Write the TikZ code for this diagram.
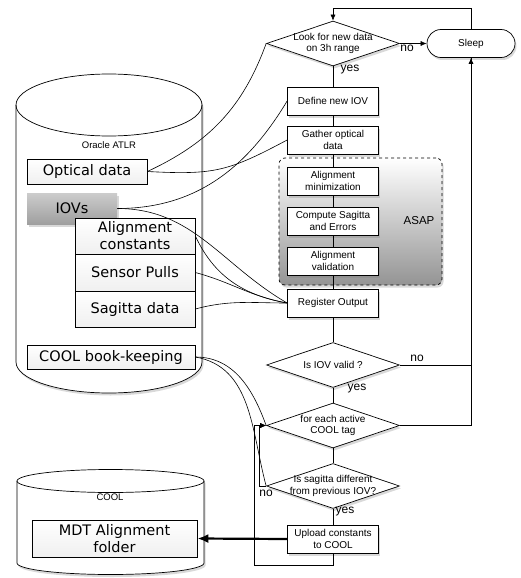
\documentclass[tikz,border=0pt]{standalone}
\usepackage{fontspec}
\setmainfont{Liberation Sans}
\newfontfamily\dbfont{DejaVu Sans}
\usetikzlibrary{shapes.geometric,shadows,arrows.meta}

\begin{document}
\begin{tikzpicture}[x=1pt,y=-1pt,line width=0.7pt]
		\tikzset{shade/.style = {drop shadow={shadow xshift=1.5pt, shadow yshift=-2.5pt, opacity=0.3}}}
		\tikzset{box/.style = {draw, fill=white, shade, minimum width=91pt, minimum height=28pt, inner sep=1pt, align=center, font=\fontsize{10}{11.5}\selectfont}}
		\tikzset{decision/.style = {diamond, draw, fill=white, shade, inner sep=0pt, minimum width=133pt, minimum height=45pt}}
		\tikzset{dtext/.style = {align=center, inner sep=0pt, font=\fontsize{10}{11.5}\selectfont}}
		\tikzset{datbox/.style = {draw, top color=white, bottom color=gray!12, inner sep=1pt, align=center, font=\dbfont\fontsize{14.5}{17}\selectfont}}
		\tikzset{answer/.style = {inner sep=0pt, font=\fontsize{12}{14}\selectfont}}
		\tikzset{line/.style = {line width=0.6pt}}
		\tikzset{edge/.style = {line width=0.6pt, -{Latex[length=6pt,width=5pt]}}}
		
		\useasboundingbox (0,0) rectangle (521,578);
		
		% Oracle database
		\filldraw[fill=white, shade] (16,105) -- (16,362) arc[start angle=180, end angle=0, x radius=93, y radius=31]
			-- (202,105) arc[start angle=0, end angle=-180, x radius=93, y radius=31] -- cycle;
		\draw (16,105) arc[start angle=180, end angle=0, x radius=93, y radius=31];
		\node[font=\fontsize{9.5}{11}\selectfont] (oracle) at (109,145) {Oracle ATLR};
		
		% COOL database
		\filldraw[fill=white, shade] (17,481) -- (17,563) arc[start angle=180, end angle=0, x radius=93.5, y radius=11.5]
			-- (204,481) arc[start angle=0, end angle=-180, x radius=93.5, y radius=11.5] -- cycle;
		\draw (17,481) arc[start angle=180, end angle=0, x radius=93.5, y radius=11.5];
		\node[font=\fontsize{9.5}{11}\selectfont] (cool) at (110,497) {COOL};
		
		\node[datbox, minimum width=120pt, minimum height=25pt] (optical) at ( 87,171.5) {Optical data};
		\node[datbox, minimum width=90pt, minimum height=31pt, top color=gray!40, bottom color=gray!75, draw=none, shade] (iovs) at ( 72,208.5) {IOVs};
		\node[datbox, minimum width=120pt, minimum height=36pt] (alignc) at (135,236) {Alignment\\constants};
		\node[datbox, minimum width=120pt, minimum height=37pt] (pulls) at (135,272.5) {Sensor Pulls};
		\node[datbox, minimum width=120pt, minimum height=36pt] (sagdata) at (135,309) {Sagitta data};
		\node[datbox, minimum width=168pt, minimum height=24pt] (bookkeep) at (111,357) {COOL book-keeping};
		\node[datbox, minimum width=165pt, minimum height=37pt] (mdt) at (114.5,538.5) {MDT Alignment\\folder};
		
		% ASAP block
		\node[draw, dashed, rounded corners=6pt, top color=white, bottom color=black!42, shade,
			minimum width=163pt, minimum height=127pt] (asap) at (360.5,221.5) {};
		\node[font=\fontsize{11.5}{13}\selectfont] (asaptxt) at (419,221) {ASAP};
		
		% flow
		\node[decision] (look) at (333,43.5) {};
		\node[dtext] (looktxt) at (look) {Look for new data\\on 3h range};
		\node[box, rounded corners=14pt, minimum width=88pt] (sleep) at (471,43.5) {Sleep};
		\node[box] (define) at (333,101) {Define new IOV};
		\node[box] (gather) at (333,140) {Gather optical\\data};
		\node[box] (minim) at (333,181) {Alignment\\minimization};
		\node[box] (compute) at (333,221) {Compute Sagitta\\and Errors};
		\node[box] (valid) at (333,261) {Alignment\\validation};
		\node[box] (register) at (333,303) {Register Output};
		\node[decision] (iovvalid) at (333,365) {};
		\node[dtext] (iovtxt) at (iovvalid) {Is IOV valid ?};
		\node[decision] (foreach) at (333,425.5) {};
		\node[dtext] (foreachtxt) at (foreach) {for each active\\COOL tag};
		\node[decision] (sagdiff) at (333,486) {};
		\node[dtext] (sagdifftxt) at (sagdiff) {Is sagitta different\\from previous IOV?};
		\node[box] (upload) at (333,539) {Upload constants\\to COOL};
		
		\node[answer] (no1) at (407,48) {no};
		\node[answer] (yes1) at (350,70) {yes};
		\node[answer] (no2) at (417,358) {no};
		\node[answer] (yes2) at (357,389) {yes};
		\node[answer] (no3) at (266,493) {no};
		\node[answer] (yes3) at (345,512) {yes};
		
		\coordinate (top) at (333,8);
		\coordinate (loopin) at (259,425.5);
		\coordinate (loopbl) at (254,565);
		
		\draw[line] (look) to (define);
		\draw[line] (define) to (gather);
		\draw[line] (gather) to (minim);
		\draw[line] (minim) to (compute);
		\draw[line] (compute) to (valid);
		\draw[line] (valid) to (register);
		\draw[line] (register) to (iovvalid);
		\draw[line] (iovvalid) to (foreach);
		\draw[line] (foreach) to (sagdiff);
		\draw[line] (sagdiff) to (upload);
		
		\draw[edge] (look.east) to (sleep.west);
		\draw[edge] (sleep.north) |- (top) -- (look.north);
		\draw[edge] (iovvalid.east) -| (sleep.south);
		\draw[line] (foreach.east) -| (sleep.south);
		\draw[edge] (sagdiff.west) -| (loopin) -- (foreach.west);
		\draw[edge] (upload.south) |- (loopbl) |- (foreach.west);
		\draw[line width=2.2pt, -{Latex[length=11pt,width=9pt]}] (upload.west) to (mdt.east);
		
		% data links
		\draw[line] (optical.east) to[out=25, in=-110] (look.west);
		\draw[line] (optical.east) to[out=-3, in=208, looseness=1.2] (gather.west);
		\draw[line] (iovs.east) to[out=0, in=239] (define.west);
		\draw[line] (iovs.east) to[out=0, in=150] (register.west);
		\draw[line] (alignc.east) to[out=-65, in=170] (register.west);
		\draw[line] (pulls.east) to[out=-15, in=170] (register.west);
		\draw[line] (sagdata.east) to[out=15, in=180] (register.west);
		\draw[line] (bookkeep.east) to[out=0, in=110] (foreach.west);
		\draw[line] (bookkeep.east) to[out=-10, in=105] (sagdiff.west);
\end{tikzpicture}
\end{document}
